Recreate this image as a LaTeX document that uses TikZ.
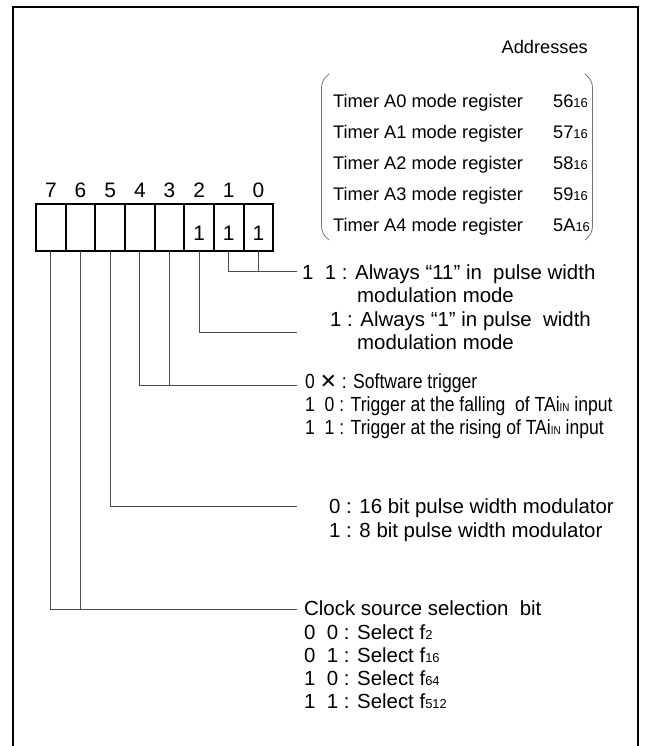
\documentclass[tikz,border=0pt]{standalone}
\usepackage{fontspec}
\setmainfont{Liberation Sans}
\newfontfamily\narrowfont[FakeStretch=0.86]{Liberation Sans}
\newfontfamily\symfont{DejaVu Sans}
\newcommand\sm[1]{{\fontsize{13}{13}\selectfont #1}}
\newcommand\smn[1]{{\fontsize{11.5}{11.5}\selectfont #1}}
\tikzset{
  frame/.style={line width=2bp, black},
  cell/.style={draw, line width=1.8bp, minimum width=29.66bp, minimum height=47bp, inner sep=0pt, outer sep=0pt},
  bitnum/.style={anchor=base, inner sep=0pt, font=\fontsize{21}{21}\selectfont},
  one/.style={anchor=base, inner sep=0pt, font=\fontsize{21}{21}\selectfont},
  lead/.style={line width=0.9bp, black!70},
  txt/.style={anchor=base west, inner sep=0pt, font=\fontsize{20.5}{24}\selectfont},
  ntxt/.style={anchor=base west, inner sep=0pt, font=\narrowfont\fontsize{20.5}{24}\selectfont},
  ttxt/.style={anchor=base west, inner sep=0pt, font=\fontsize{18.3}{22}\selectfont},
  brk/.style={line width=0.8bp, black!55},
}
\begin{document}
\begin{tikzpicture}[x=1bp,y=-1bp]
\useasboundingbox (0,0) rectangle (646,746);
\fill[white] (0,0) rectangle (646,746);
% outer frame
\draw[frame] (13,750) -- (13,7) -- (638,7) -- (638,750);

% addresses block
\node[ttxt, anchor=base east] (addr) at (588,54) {Addresses};
\draw[brk] (329,74) .. controls (324,78) and (321.5,82) .. (321.5,88) -- (321.5,226) .. controls (321.5,232) and (324,236) .. (329,240);
\draw[brk] (585,74) .. controls (590,78) and (592.5,82) .. (592.5,88) -- (592.5,226) .. controls (592.5,232) and (590,236) .. (585,240);
\foreach \k/\a [count=\r from 0] in {0/56,1/57,2/58,3/59,4/5A}{
  \node[ttxt] (tr\k) at (333,{107+31*\r}) {Timer A\k\ mode register};
  \node[ttxt] (ta\k) at (553,{107+31*\r}) {\a\sm{16}};
}

% register cells
\foreach \i in {0,...,7}{
  \node[cell] (c\i) at ({273.3-29.66*(\i+0.5)},227.5) {};
  \node[bitnum] (b\i) at ([yshift=7bp]c\i.north) {\i};
}
\foreach \i in {0,1,2}{
  \node[one] (o\i) at ([yshift=11bp]c\i.south) {1};
}

% leader lines
\coordinate (e1) at (297,271);
\coordinate (e2) at (297,332);
\coordinate (e3) at (297,385);
\coordinate (e5) at (297,506);
\coordinate (e6) at (297,609);
\draw[lead] (c1.south) |- (e1);
\draw[lead] (c0.south) -- (c0.south |- e1);
\draw[lead] (c2.south) |- (e2);
\draw[lead] (c4.south) |- (e3);
\draw[lead] (c3.south) -- (c3.south |- e3);
\draw[lead] (c5.south) |- (e5);
\draw[lead] (c7.south) |- (e6);
\draw[lead] (c6.south) -- (c6.south |- e6);

% bits 1,0 and 2
\node[txt] (p1) at (302,279) {1\ \ 1 : Always “11” in\ \ pulse width};
\node[txt] (p2) at (357,302) {modulation mode};
\node[txt] (p3) at (330,326) {1 : Always “1” in pulse\ \ width};
\node[txt] (p4) at (357,349) {modulation mode};

% bits 4,3
\node[ntxt] (g1) at (305,388) {0 {\symfont ✕} : Software trigger};
\node[ntxt] (g2) at (305,411) {1\ \ 0 : Trigger at the falling\ \ of TAi\smn{IN} input};
\node[ntxt] (g3) at (305,434) {1\ \ 1 : Trigger at the rising of TAi\smn{IN} input};

% bit 5
\node[txt] (m1) at (329,513) {0 : 16 bit pulse width modulator};
\node[txt] (m2) at (329,537) {1 : 8 bit pulse width modulator};

% bits 7,6
\node[txt] (k0) at (304,615) {Clock source selection\ \ bit};
\node[txt] (k1) at (304,639) {0\ \ 0 : Select f\sm{2}};
\node[txt] (k2) at (304,662) {0\ \ 1 : Select f\sm{16}};
\node[txt] (k3) at (304,685) {1\ \ 0 : Select f\sm{64}};
\node[txt] (k4) at (304,708) {1\ \ 1 : Select f\sm{512}};
\end{tikzpicture}
\end{document}
